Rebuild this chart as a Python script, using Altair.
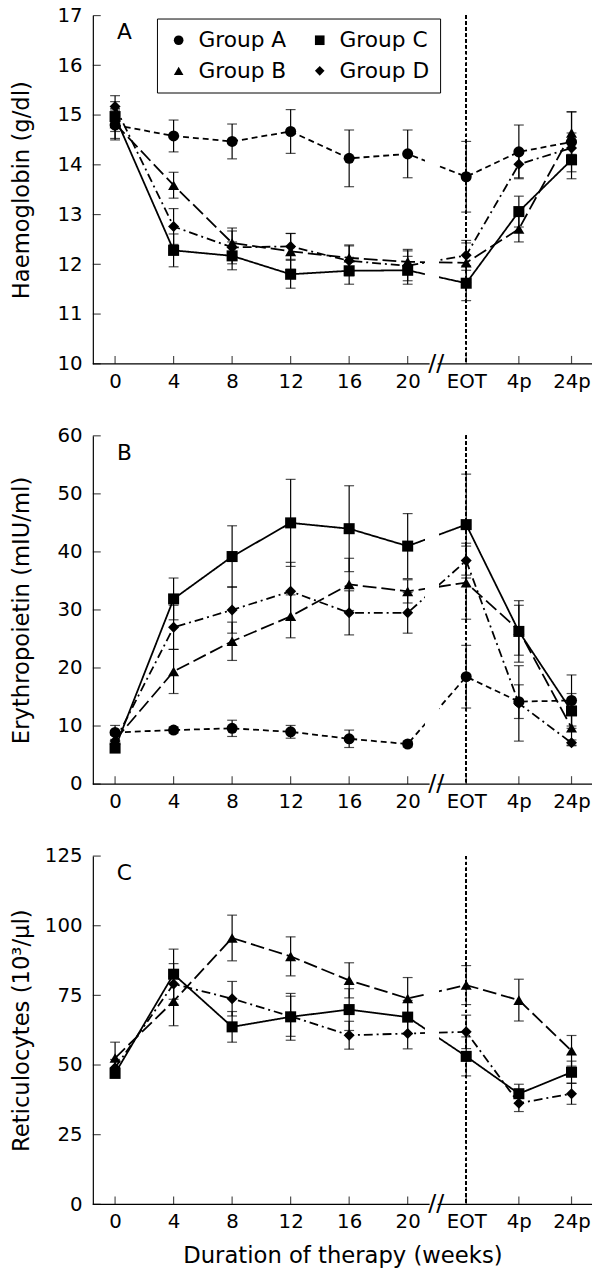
import altair as alt
import pandas as pd

FONT = "DejaVu Sans"
GROUPS = ["Group A", "Group B", "Group C", "Group D"]
LEGEND_ORDER = ["Group A", "Group C", "Group B", "Group D"]
SHAPES = ["circle", "square", "triangle-up", "diamond"]
DASHES = [[6, 4], [14, 5], [1, 0], [9, 4, 2, 4]]

X_POS = [0, 4, 8, 12, 16, 20, 24, 27.6, 31.2]
X_LABELS = ["0", "4", "8", "12", "16", "20", "EOT", "4p", "24p"]

# Panel A: Haemoglobin (g/dl)
HB_A = [14.80, 14.58, 14.47, 14.67, 14.13, 14.22, 13.76, 14.26, 14.46]
HB_A_ERR = [0.30, 0.32, 0.35, 0.44, 0.57, 0.48, 0.71, 0.54, 0.60]
HB_B = [14.83, 13.59, 12.43, 12.26, 12.13, 12.05, 12.03, 12.71, 14.64]
HB_B_ERR = [0.30, 0.26, 0.30, 0.36, 0.26, 0.25, 0.40, 0.26, 0.43]
HB_C = [14.97, 12.28, 12.17, 11.80, 11.87, 11.88, 11.62, 13.06, 14.10]
HB_C_ERR = [0.30, 0.33, 0.28, 0.28, 0.27, 0.28, 0.35, 0.31, 0.38]
HB_D = [15.17, 12.76, 12.34, 12.36, 12.07, 11.97, 12.18, 14.01, 14.34]
HB_D_ERR = [0.22, 0.36, 0.33, 0.26, 0.30, 0.30, 0.30, 0.27, 0.30]

# Panel B: Erythropoietin (mIU/ml)
EPO_A = [8.9, 9.3, 9.6, 9.0, 7.8, 6.9, 18.5, 14.2, 14.4]
EPO_A_ERR = [1.2, 0.5, 1.4, 1.1, 1.5, 0.5, 5.4, 2.9, 4.4]
EPO_B = [7.6, 19.4, 24.6, 28.9, 34.4, 33.2, 34.7, 26.5, 9.7]
EPO_B_ERR = [1.0, 3.8, 3.3, 3.7, 4.5, 2.0, 6.3, 4.3, 3.0]
EPO_C = [6.2, 31.9, 39.2, 45.0, 44.0, 41.0, 44.7, 26.3, 12.6]
EPO_C_ERR = [0.5, 3.6, 5.3, 7.5, 7.4, 5.6, 8.7, 5.3, 3.0]
EPO_D = [7.4, 27.0, 30.0, 33.2, 29.5, 29.5, 38.5, 13.9, 7.1]
EPO_D_ERR = [1.0, 3.8, 4.0, 5.0, 3.8, 3.5, 3.0, 6.5, 0.5]

# Panel C: Reticulocytes (10^3/ul) - groups B, C, D only
RET_B = [52.5, 72.9, 95.6, 89.0, 80.4, 73.9, 78.7, 73.3, 55.1]
RET_B_ERR = [5.7, 8.8, 8.2, 7.0, 6.3, 7.5, 7.0, 7.5, 5.5]
RET_C = [47.0, 82.6, 63.7, 67.3, 69.9, 67.2, 53.1, 39.7, 47.4]
RET_C_ERR = [1.5, 9.0, 5.5, 8.4, 7.5, 6.0, 7.0, 3.4, 4.0]
RET_D = [49.0, 79.1, 73.8, 67.5, 60.7, 61.3, 61.9, 36.3, 39.7]
RET_D_ERR = [3.0, 7.3, 6.2, 7.2, 5.0, 5.5, 6.0, 3.0, 3.8]

W = 506
H = 353
XDOM = [-1.52, 32.6]
BREAK = [21.2, 22.1]
BREAK_MARK = 21.95


def make_df(series):
    rows = []
    for g, (vals, errs) in series.items():
        for p, v, e in zip(X_POS, vals, errs):
            rows.append({"group": g, "marker": g, "pos": p, "value": v,
                         "lo": v - e, "hi": v + e})
    return pd.DataFrame(rows)


label_expr = ""
for p, l in zip(X_POS, X_LABELS):
    label_expr += f"datum.value == {p} ? '{l}' : "
label_expr += "''"


def panel(df, ytitle, ydom, yticks, letter, legend, xtitle):
    xscale = alt.Scale(domain=XDOM, nice=False, zero=False)
    yscale = alt.Scale(domain=ydom, nice=False, zero=False)
    x_axis = alt.Axis(values=X_POS, labelExpr=label_expr, ticks=False, tickSize=0,
                      domain=False, grid=False, labelPadding=8, labelFontSize=20,
                      titlePadding=13, titleFontSize=23, labelOverlap=False)
    y_axis = alt.Axis(values=yticks, ticks=False, tickSize=0, grid=False,
                      labelPadding=11, labelFontSize=20, titleFontSize=23,
                      titleX=-72, titleY=H / 2, titleBaseline="middle",
                      domainColor="black", domainWidth=1.2)
    X = alt.X("pos:Q", scale=xscale, axis=x_axis, title=xtitle)
    Y = alt.Y("value:Q", scale=yscale, axis=y_axis, title=ytitle)

    base = alt.Chart(df)

    eot = alt.Chart(df).mark_rule(color="black", strokeWidth=1, strokeDash=[3, 3]).encode(
        x=alt.datum(24))

    bars = base.mark_rule(color="black", strokeWidth=1.2).encode(
        x="pos:Q", y="lo:Q", y2="hi:Q")
    cap_lo = base.mark_tick(orient="horizontal", color="black", size=10, thickness=1.2).encode(
        x="pos:Q", y="lo:Q")
    cap_hi = base.mark_tick(orient="horizontal", color="black", size=10, thickness=1.2).encode(
        x="pos:Q", y="hi:Q")

    lines = base.mark_line(color="black", strokeWidth=1.8).encode(
        x=X, y=Y,
        strokeDash=alt.StrokeDash("group:N", scale=alt.Scale(domain=GROUPS, range=DASHES),
                                  legend=None))

    gap = alt.Chart(df).mark_rect(color="white", opacity=1).encode(
        x=alt.datum(BREAK[0]), x2=alt.datum(BREAK[1]), y=alt.value(0), y2=alt.value(H - 1))

    if legend:
        leg = alt.Legend(orient="none", legendX=65, legendY=3, columns=2, title=None,
                         direction="horizontal",
                         strokeColor="black", fillColor="white", padding=11,
                         labelFontSize=22, labelFont=FONT, symbolSize=95,
                         symbolFillColor="black", symbolStrokeColor="black",
                         symbolStrokeWidth=0, columnPadding=22, rowPadding=9,
                         labelOffset=9, labelColor="black")
    else:
        leg = None
    pts = base.mark_point(filled=True, color="black", size=125, opacity=1).encode(
        x="pos:Q", y="value:Q",
        shape=alt.Shape("marker:N", scale=alt.Scale(domain=LEGEND_ORDER, range=SHAPES),
                        legend=leg))

    ytick_df = pd.DataFrame({"value": yticks})
    yt = alt.Chart(ytick_df).mark_tick(orient="horizontal", color="black", size=8,
                                       thickness=1.2).encode(y="value:Q", x=alt.value(4))
    xtick_df = pd.DataFrame({"pos": X_POS})
    xt = alt.Chart(xtick_df).mark_tick(orient="vertical", color="black", size=8,
                                       thickness=1.2).encode(x="pos:Q", y=alt.value(H - 4))

    seg_df = pd.DataFrame({"pos": [XDOM[0], BREAK[1] - 0.05], "pos2": [BREAK[0] + 0.3, XDOM[1]]})
    xline = alt.Chart(seg_df).mark_rule(color="black", strokeWidth=1.2).encode(
        x="pos:Q", x2="pos2:Q", y=alt.value(H))

    slash = alt.Chart(pd.DataFrame({"pos": [BREAK_MARK]})).mark_text(
        text="//", fontSize=24, font=FONT, fontWeight="normal", color="black",
        baseline="middle", align="center").encode(
        x=alt.datum(BREAK_MARK), y=alt.value(H))

    lab = alt.Chart(pd.DataFrame({"pos": [0]})).mark_text(
        text=letter, fontSize=22, font=FONT, fontWeight="normal", color="black",
        baseline="middle", align="center").encode(
        x=alt.value(32), y=alt.value(17))

    return alt.layer(lines, gap, eot, bars, cap_lo, cap_hi, pts, yt, xt, xline, slash, lab
                     ).properties(width=W, height=H)


dfA = make_df({"Group A": (HB_A, HB_A_ERR), "Group B": (HB_B, HB_B_ERR),
               "Group C": (HB_C, HB_C_ERR), "Group D": (HB_D, HB_D_ERR)})
dfB = make_df({"Group A": (EPO_A, EPO_A_ERR), "Group B": (EPO_B, EPO_B_ERR),
               "Group C": (EPO_C, EPO_C_ERR), "Group D": (EPO_D, EPO_D_ERR)})
dfC = make_df({"Group B": (RET_B, RET_B_ERR), "Group C": (RET_C, RET_C_ERR),
               "Group D": (RET_D, RET_D_ERR)})

pA = panel(dfA, "Haemoglobin (g/dl)", [10, 17], list(range(10, 18)), "A", True, None)
pB = panel(dfB, "Erythropoietin (mIU/ml)", [0, 60], list(range(0, 61, 10)), "B", False, None)
pC = panel(dfC, "Reticulocytes (10³/μl)", [0, 125], list(range(0, 126, 25)), "C", False,
           "Duration of therapy (weeks)")

chart = alt.vconcat(pA, pB, pC, spacing=35).resolve_scale(
    shape="independent", strokeDash="independent"
).properties(
    padding={"left": 3, "top": -11, "right": 0, "bottom": 1}
).configure_view(stroke=None).configure_axis(
    labelFont=FONT, titleFont=FONT, labelColor="black", titleColor="black",
    titleFontWeight="normal"
).configure_text(font=FONT)

chart.save("out.html", embed_options={"renderer": "svg", "actions": False})
